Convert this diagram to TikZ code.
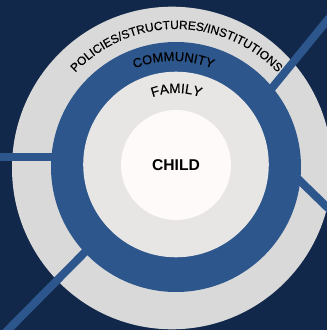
\documentclass[tikz,border=0pt]{standalone}
\usepackage{fontspec}
\setmainfont{Liberation Sans}
\newfontfamily\arcfont[FakeBold=0.35]{Liberation Sans}
\usetikzlibrary{decorations.text}
\definecolor{bgnavy}{HTML}{12284A}
\definecolor{ringblue}{HTML}{2C568C}
\definecolor{ringgray}{HTML}{D9D9D9}
\definecolor{famgray}{HTML}{E8E6E5}
\definecolor{childwhite}{HTML}{FEFAF9}
\tikzset{x=1bp,y=1bp,
  spoke/.style={draw=ringblue,line width=8bp,line cap=butt},
  arctext/.style={decorate,decoration={text along path,text align=center,text color=black,text={#1}}}
}
\begin{document}
\begin{tikzpicture}
\clip (0,0) rectangle (327,330);
\useasboundingbox (0,0) rectangle (327,330);
\fill[bgnavy] (0,0) rectangle (327,330);
\fill[ringgray] (172,162) ellipse [x radius=160,y radius=161.3];
\coordinate (s1a) at (270,239.5);
\coordinate (s1b) at (330,313);
\coordinate (s2a) at (60,173.3);
\coordinate (s2b) at (-2,173.3);
\coordinate (s3a) at (295,154);
\coordinate (s3b) at (330,120);
\coordinate (s4a) at (90,83);
\coordinate (s4b) at (4,-4);
\draw[spoke] (s1a) -- (s1b);
\draw[spoke] (s2a) -- (s2b);
\draw[spoke] (s3a) -- (s3b);
\draw[spoke] (s4a) -- (s4b);
\fill[ringblue] (176,163) circle [radius=125];
\fill[famgray] (176,165.5) circle [radius=92.8];
\fill[childwhite] (176,165) circle [radius=55];
\node[font=\bfseries\fontsize{15.7}{15.7}\selectfont,text=black,inner sep=0] (child) at (176,165) {CHILD};
\path[arctext={|\arcfont\fontsize{12}{12}\selectfont|POLICIES/STRUCTURES/INSTITUTIONS}] (176.5,162) ++(170:139) arc[start angle=170,end angle=10,radius=139];
\path[arctext={|\arcfont\fontsize{13}{13}\selectfont|COMMUNITY}] (173.5,164) ++(150:105) arc[start angle=150,end angle=30,radius=105];
\path[arctext={|\arcfont\fontsize{13.6}{13.6}\selectfont|FAMILY}] (176.5,167) ++(150:70) arc[start angle=150,end angle=30,radius=70];
\end{tikzpicture}
\end{document}
